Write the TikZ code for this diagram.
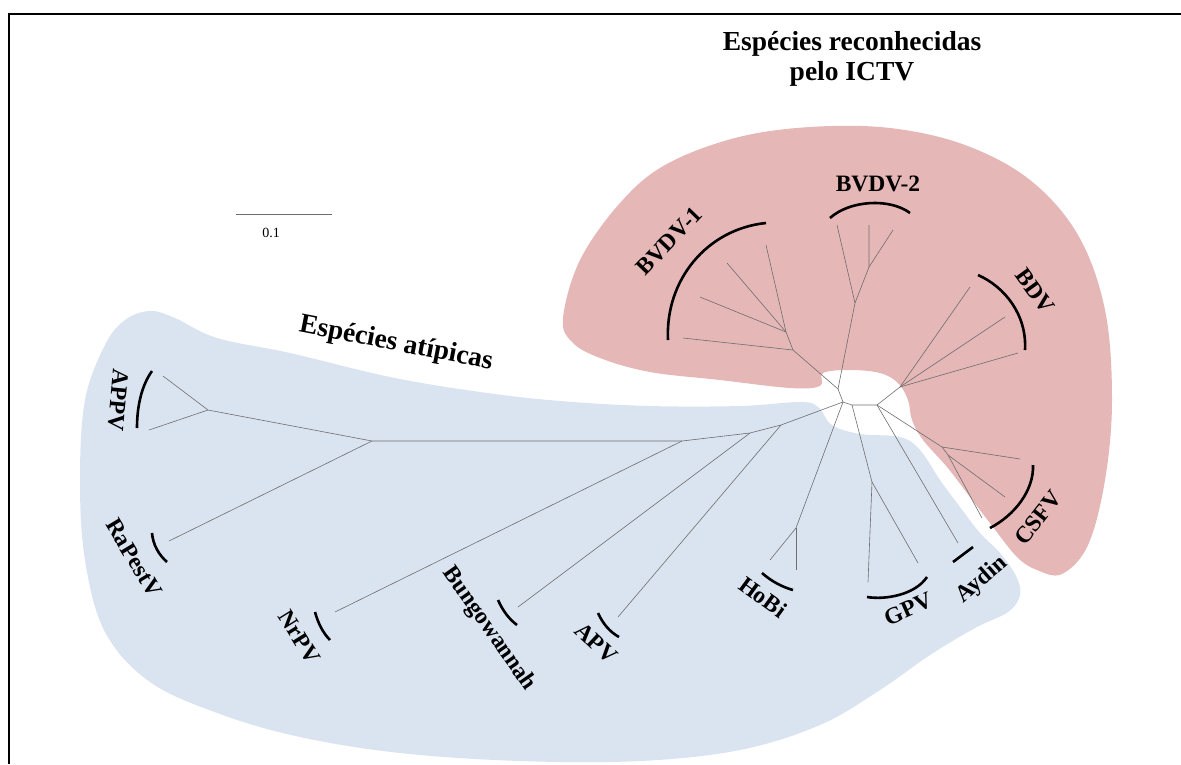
\documentclass[tikz,border=0pt]{standalone}
\usepackage{fontspec}
\setmainfont{Liberation Serif}
\definecolor{blobred}{HTML}{E5B7B7}
\definecolor{blobblue}{HTML}{DAE3F0}
\definecolor{branchgray}{HTML}{6E6E6E}
\begin{document}
\begin{tikzpicture}[x=1pt,y=-1pt,
  br/.style={draw=branchgray, line width=0.6pt},
  brk/.style={draw=black, line width=2.6pt},
  lab/.style={font=\bfseries\fontsize{23.5}{26}\selectfont, inner sep=0pt},
  ttl/.style={font=\bfseries\fontsize{27.5}{30}\selectfont, align=center, inner sep=0pt}]
\useasboundingbox (0,0) rectangle (1181,764);
% frame
\draw[line width=2pt] (1181,14) -- (9,14) -- (9,764);
% blobs
\fill[blobred] plot[smooth cycle, tension=0.6] coordinates {
 (563,318) (580,260) (620,203) (665,165) (735,138) (810,127) (890,128)
 (965,145) (1030,180) (1078,235) (1105,310) (1112,400) (1105,480)
 (1088,545) (1062,574) (1037,570) (1017,557) (993,527) (970,497)
 (947,467) (923,440) (912,420) (908,400) (898,383) (880,373) (850,370)
 (823,373) (820,386) (790,388) (720,380) (650,372) (600,358) (572,342)};
\fill[blobblue] plot[smooth cycle, tension=0.6] coordinates {
 (105,345) (125,320) (150,311) (175,318) (217,338) (290,353) (390,377)
 (480,392) (560,401) (650,406) (740,406) (800,402) (818,407) (832,425)
 (860,434) (900,437) (920,450) (940,480) (960,507) (980,533) (1000,553)
 (1016,576) (1020,595) (1008,612) (975,628) (930,655) (880,690)
 (820,725) (740,750) (640,761) (520,761) (400,753) (300,737)
 (220,714) (150,682) (105,632) (85,560) (80,480) (85,400)};
% tree coordinates
\coordinate (A) at (838,389);
\coordinate (B) at (843,402);
\coordinate (Bh) at (852,405);
\coordinate (C) at (877,405);
\coordinate (N1) at (793,350);
\coordinate (N1b) at (786,332);
\coordinate (l1) at (683,338);
\coordinate (l2) at (700,297);
\coordinate (l3) at (727,263);
\coordinate (l4) at (766,245);
\coordinate (N2) at (855,303);
\coordinate (N2b) at (869,267);
\coordinate (m1) at (837,225);
\coordinate (m2) at (869,225);
\coordinate (m3) at (893,230);
\coordinate (NB) at (900,387);
\coordinate (b1) at (970,287);
\coordinate (b2) at (1005,317);
\coordinate (b3) at (1018,353);
\coordinate (NC) at (942,447);
\coordinate (NCb) at (948,455);
\coordinate (c1) at (1020,459);
\coordinate (c2) at (1005,497);
\coordinate (c3) at (982,518);
\coordinate (ay) at (958,543);
\coordinate (NG) at (872,482);
\coordinate (g1) at (868,582);
\coordinate (g2) at (918,563);
\coordinate (NH) at (796,528);
\coordinate (h1) at (770,560);
\coordinate (h2) at (796,570);
\coordinate (NA1) at (781,425);
\coordinate (NA2) at (750,433);
\coordinate (NA3) at (682,441);
\coordinate (NA4) at (372,441);
\coordinate (NP) at (208,410);
\coordinate (apv) at (618,617);
\coordinate (bun) at (518,607);
\coordinate (nr) at (335,612);
\coordinate (ra) at (169,541);
\coordinate (ap1) at (163,376);
\coordinate (ap2) at (149,430);
% branches
\draw[br] (A) -- (N1) -- (l1);
\draw[br] (N1) -- (N1b) -- (l2);
\draw[br] (N1b) -- (l3);
\draw[br] (N1b) -- (l4);
\draw[br] (A) -- (N2) -- (m1);
\draw[br] (N2) -- (N2b) -- (m2);
\draw[br] (N2b) -- (m3);
\draw[br] (A) -- (B) -- (Bh) -- (C);
\draw[br] (C) -- (NB) -- (b1);
\draw[br] (NB) -- (b2);
\draw[br] (NB) -- (b3);
\draw[br] (C) -- (NC) -- (c1);
\draw[br] (NC) -- (NCb) -- (c2);
\draw[br] (NCb) -- (c3);
\draw[br] (C) -- (ay);
\draw[br] (Bh) -- (NG) -- (g1);
\draw[br] (NG) -- (g2);
\draw[br] (B) -- (NH) -- (h1);
\draw[br] (NH) -- (h2);
\draw[br] (B) -- (NA1) -- (apv);
\draw[br] (NA1) -- (NA2) -- (bun);
\draw[br] (NA2) -- (NA3) -- (nr);
\draw[br] (NA3) -- (NA4) -- (NP) -- (ap1);
\draw[br] (NP) -- (ap2);
\draw[br] (NA4) -- (ra);
% brackets
\draw[brk] (668,340) .. controls (665,280) and (707,229) .. (766,223);
\draw[brk] (830,218) .. controls (850,200) and (890,198) .. (910,213);
\draw[brk] (978,275) .. controls (1005,287) and (1027,315) .. (1025,350);
\draw[brk] (1033,465) .. controls (1034,490) and (1015,515) .. (990,528);
\draw[brk] (867,597) .. controls (885,600) and (915,595) .. (927,577);
\draw[brk] (953,562) -- (973,547);
\draw[brk] (762,573) .. controls (771,581) and (782,587) .. (793,590);
\draw[brk] (598,613) .. controls (603,624) and (610,632) .. (619,637);
\draw[brk] (498,600) .. controls (503,611) and (509,619) .. (517,625);
\draw[brk] (315,612) .. controls (318,623) and (323,633) .. (330,640);
\draw[brk] (152,533) .. controls (153,545) and (159,555) .. (167,562);
\draw[brk] (152,371) .. controls (142,385) and (137,405) .. (137,428);
% labels
\node[lab, rotate=46] (tBVDV1) at (669,241) {BVDV-1};
\node[lab] (tBVDV2) at (878,184) {BVDV-2};
\node[lab, rotate=-54] (tBDV) at (1035,291) {BDV};
\node[lab, rotate=52] (tCSFV) at (1038,518) {CSFV};
\node[lab, rotate=41] (tAydin) at (982,580) {Aydin};
\node[lab, rotate=24] (tGPV) at (908,609) {GPV};
\node[lab, rotate=-36] (tHoBi) at (763,597) {HoBi};
\node[lab, rotate=-43] (tAPV) at (596,643) {APV};
\node[lab, rotate=-55] (tBun) at (489,629) {Bungowannah};
\node[lab, rotate=-58] (tNrPV) at (299,637) {NrPV};
\node[lab, rotate=-59] (tRa) at (134,558) {RaPestV};
\node[lab, rotate=-95] (tAPPV) at (118,400) {APPV};
\node[ttl] (title) at (852,59) {Espécies reconhecidas\\pelo ICTV};
\node[ttl, rotate=-11] (atyp) at (396,344) {Espécies atípicas};
% scale bar
\coordinate (sb1) at (236,214);
\coordinate (sb2) at (332,214);
\draw[draw=branchgray, line width=0.6pt] (sb1) -- (sb2);
\node[font=\fontsize{14}{16}\selectfont, inner sep=0pt] (sbl) at (271,233) {0.1};
\end{tikzpicture}
\end{document}
